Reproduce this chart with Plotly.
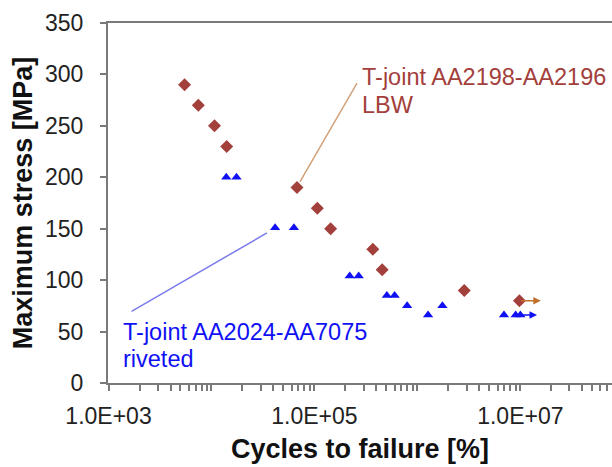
import math
import plotly.graph_objects as go

# --- data ---
lbw_cycles = [5480, 7450, 10700, 14060, 67700, 106700, 143600, 369000, 455000, 2850000, 9800000]
lbw_stress = [290, 270, 250, 230, 190, 170, 150, 130, 110, 90, 80]

riv_cycles = [13930, 17500, 41500, 63200, 220000, 269000, 505000, 601000, 795000,
              1270000, 1750000, 6930000, 9000000, 10000000]
riv_stress = [200, 200, 151, 151, 104, 104, 85, 85, 75, 66, 75, 66, 66, 66]

# run-out arrows (start cycles, end cycles, stress)
lbw_runout = (9800000, 15800000, 80)
riv_runout = (10000000, 14500000, 66)

x_tick_labels = {1e3: "1.0E+03", 1e5: "1.0E+05", 1e7: "1.0E+07"}
y_ticks = [0, 50, 100, 150, 200, 250, 300, 350]

RED = "#A3403C"
BLUE = "#1010F5"
AXC = "#7a7a7a"
FONT = "Liberation Sans, Arial, sans-serif"

fig = go.Figure()
fig.add_trace(go.Scatter(x=lbw_cycles, y=lbw_stress, mode="markers",
                         marker=dict(symbol="diamond", size=10, color=RED),
                         showlegend=False))
fig.add_trace(go.Scatter(x=riv_cycles, y=riv_stress, mode="markers",
                         marker=dict(symbol="triangle-up", size=9, color=BLUE),
                         showlegend=False))

# run-out arrows
for (x0, x1, yv), col in [(lbw_runout, "#C0702A"), (riv_runout, BLUE)]:
    fig.add_annotation(x=math.log10(x1), y=yv, ax=math.log10(x0), ay=yv,
                       xref="x", yref="y", axref="x", ayref="y", text="",
                       showarrow=True, arrowhead=2, arrowsize=1, arrowwidth=1.5,
                       arrowcolor=col, standoff=0, startstandoff=0)

# leader lines
fig.add_annotation(x=4.859, y=195.6, ax=5.422, ay=293, xref="x", yref="y",
                   axref="x", ayref="y", text="", showarrow=True, arrowhead=0,
                   arrowwidth=1.5, arrowcolor="#D2A27A", standoff=0, startstandoff=0)
fig.add_annotation(x=4.539, y=145.9, ax=3.209, ay=68.8, xref="x", yref="y",
                   axref="x", ayref="y", text="", showarrow=True, arrowhead=0,
                   arrowwidth=1.5, arrowcolor="#7B7BEE", standoff=0, startstandoff=0)

# labels
for txt, xv, yv, col in [("T-joint AA2198-AA2196", 5.455, 297.7, RED),
                         ("LBW", 5.455, 270.4, RED),
                         ("T-joint AA2024-AA7075", 3.135, 49.4, BLUE),
                         ("riveted", 3.135, 23.1, BLUE)]:
    fig.add_annotation(x=xv, y=yv, xref="x", yref="y", text=txt, showarrow=False,
                       xanchor="left", yanchor="middle", borderpad=0,
                       font=dict(family=FONT, size=23.5, color=col))

tickvals, ticktext = [], []
for e in range(3, 8):
    for m in range(1, 10):
        v = m * 10 ** e
        tickvals.append(v)
        ticktext.append(x_tick_labels.get(float(v), ""))

fig.update_layout(
    width=612, height=467,
    margin=dict(l=108, r=0, t=23, b=84, autoexpand=False),
    paper_bgcolor="white", plot_bgcolor="white",
    font=dict(family=FONT, size=23, color="#222"),
    xaxis=dict(type="log", range=[2.995, 7.89], tickvals=tickvals, ticktext=ticktext,
               ticks="outside", ticklen=6, tickwidth=1.5, tickcolor=AXC,
               showline=True, linecolor=AXC, linewidth=2, mirror=True,
               showgrid=False, zeroline=False, ticklabelstandoff=5, automargin=False,
               title=dict(text="<b>Cycles to failure [%]</b>", standoff=12,
                          font=dict(family=FONT, size=27, color="#111"))),
    yaxis=dict(range=[0, 350], tickvals=y_ticks, ticks="outside", ticklen=6,
               tickwidth=1.5, tickcolor=AXC, showline=True, linecolor=AXC,
               linewidth=2, showgrid=False, zeroline=False, ticklabelstandoff=12,
               automargin=False,
               title=dict(text="<b>Maximum stress [MPa]</b>", standoff=5,
                          font=dict(family=FONT, size=27, color="#111"))),
)

fig.write_html("out.html", config={"displayModeBar": False},
               post_script="document.body.style.margin='0';")
